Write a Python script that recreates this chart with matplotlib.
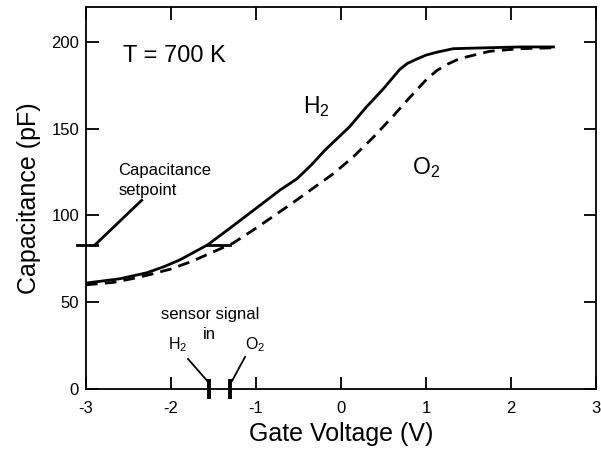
import matplotlib
matplotlib.use("Agg")
import matplotlib.pyplot as plt

plt.rcParams['font.family'] = ['Liberation Sans', 'DejaVu Sans']
plt.rcParams['mathtext.fontset'] = 'custom'
plt.rcParams['mathtext.rm'] = 'Liberation Sans'
plt.rcParams['mathtext.it'] = 'Liberation Sans:italic'
plt.rcParams['mathtext.default'] = 'regular'

# H2 curve (solid)
h2_v = [-3.0, -2.6, -2.28, -2.08, -1.89, -1.57, -1.31, -0.92, -0.72, -0.52,
        -0.35, -0.19, 0.1, 0.3, 0.5, 0.69, 0.78, 0.89, 1.0, 1.13,
        1.32, 1.7, 2.1, 2.5]
h2_c = [61, 63.5, 67, 70.5, 74.5, 83, 92.5, 107, 114.5, 121,
        129, 137.5, 151, 162.5, 173, 184, 187.5, 190, 192.3, 194,
        196, 196.5, 197, 197]

# O2 curve (dashed)
o2_v = [-3.0, -2.68, -2.46, -2.24, -2.01, -1.76, -1.52, -1.27, -1.05, -0.81,
        -0.56, -0.33, -0.09, 0.14, 0.38, 0.61, 0.81, 1.01, 1.13, 1.25,
        1.36, 1.48, 1.75, 2.1, 2.5]
o2_c = [60, 61.4, 63.5, 66, 69, 73.4, 78.6, 84, 91, 99,
        107.5, 115.6, 124, 133.5, 145, 157, 168, 178.5, 183.5, 187,
        189.5, 191.3, 194.5, 196, 196.5]

setpoint = 83
signal_h2 = -1.553
signal_o2 = -1.306

xticks = [-3, -2, -1, 0, 1, 2, 3]
yticks = [0, 50, 100, 150, 200]

fig = plt.figure(figsize=(6.01, 4.53), dpi=100)
ax = fig.add_axes([0.1431, 0.1413, 0.8486, 0.8432])

ax.plot(h2_v, h2_c, color='black', lw=2.0, solid_joinstyle='round')
ax.plot(o2_v, o2_c, color='black', lw=2.0, linestyle=(0, (4.2, 2.6)))

# capacitance setpoint marks
ax.plot([-3.106, -2.87], [setpoint, setpoint], color='black', lw=2.0, clip_on=False)
ax.plot([-2.894, -2.345], [setpoint, 108.7], color='black', lw=2.0)
ax.plot([-1.58, -1.31], [setpoint, setpoint], color='black', lw=2.0)

# sensor signal marks on the axis
for v in (signal_h2, signal_o2):
    ax.plot([v, v], [5.8, -5.8], color='black', lw=2.8, clip_on=False,
            solid_capstyle='butt')
ax.plot([-1.8, signal_h2], [17.3, 3.5], color='black', lw=1.3)
ax.plot([-1.129, -1.282], [18.5, 4.6], color='black', lw=1.3)

ax.text(-2.57, 188.6, 'T = 700 K', fontsize=17, va='baseline')
ax.text(-0.447, 159, r'H$_2$', fontsize=16.5, va='baseline')
ax.text(0.835, 124, r'O$_2$', fontsize=16.5, va='baseline')
ax.text(-2.62, 123, 'Capacitance', fontsize=12, va='baseline')
ax.text(-2.62, 111.5, 'setpoint', fontsize=12, va='baseline')
ax.text(-1.54, 40.5, 'sensor signal', fontsize=12, va='baseline', ha='center')
ax.text(-1.55, 29, 'in', fontsize=12, va='baseline', ha='center')
ax.text(-2.035, 23, r'H$_2$', fontsize=11.5, va='baseline')
ax.text(-1.129, 23, r'O$_2$', fontsize=11.5, va='baseline')

ax.set_xlim(-3, 3)
ax.set_ylim(0, 220)
ax.set_xticks(xticks)
ax.set_yticks(yticks)
ax.set_xticklabels([str(t) for t in xticks])
ax.tick_params(direction='in', length=9, width=1.3, labelsize=12,
               top=True, right=True, labelright=False, labeltop=False)
ax.tick_params(axis='x', pad=9)
ax.tick_params(axis='y', pad=5)
for s in ax.spines.values():
    s.set_linewidth(1.3)

ax.set_xlabel('Gate Voltage (V)', fontsize=18, labelpad=4)
ax.set_ylabel('Capacitance (pF)', fontsize=18, labelpad=7)

fig.savefig('out.png', dpi=100)
plt.close(fig)
